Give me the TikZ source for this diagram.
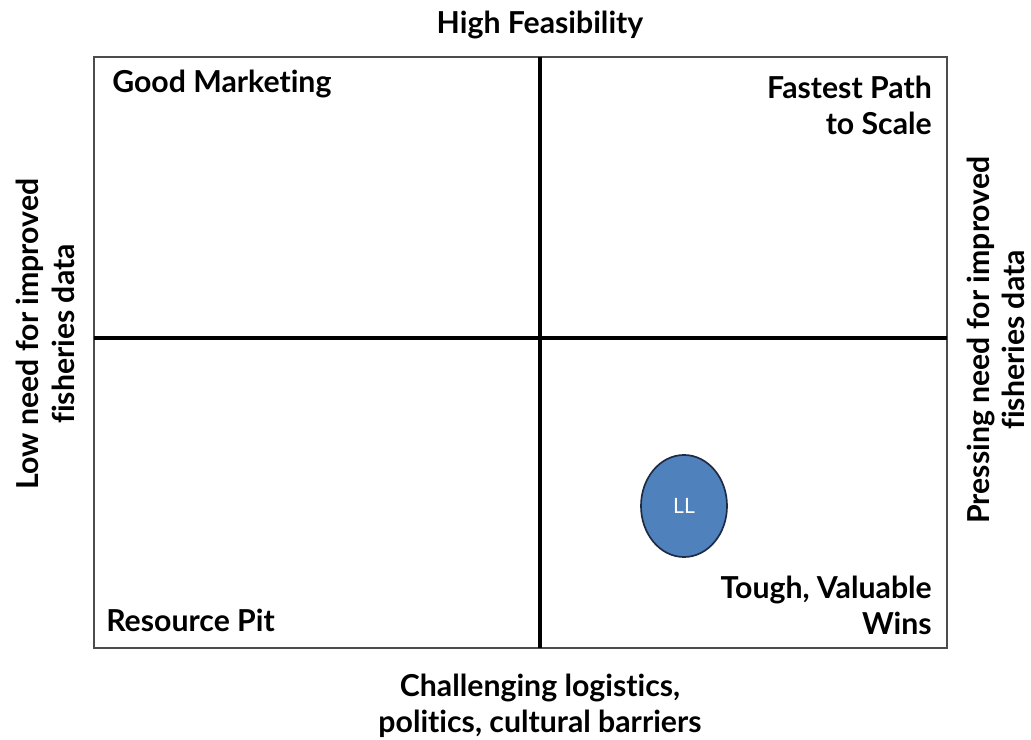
\documentclass[tikz,border=0pt]{standalone}
\usepackage{fontspec}
\setmainfont{Lato}[Ligatures=NoCommon]
\usepackage{tikz}
\usetikzlibrary{shapes.geometric}

\definecolor{llblue}{HTML}{4F81BD}
\definecolor{llnavy}{HTML}{1F2A44}

\begin{document}
\begin{tikzpicture}[x=0.025cm,y=-0.025cm,
		lbl/.style={font=\fontsize{21.5}{25.5}\selectfont\bfseries,inner sep=0pt}]
			\useasboundingbox (0,0) rectangle (1031,740);
			% quadrant frame and the two dividing lines
			\draw[line width=1.3pt,black!70] (94,57) rectangle (947,648);
			\draw[line width=2.2pt] (540,57) -- (540,648);
			\draw[line width=2.2pt] (94,338) -- (947,338);
			% axis labels
			\node [lbl] (top) at (540,25) {High Feasibility};
			\node [lbl,align=center] (bottom) at (540,706) {Challenging logistics,\\politics, cultural barriers};
			\node [lbl,align=center,rotate=90] (left) at (45,334) {Low need for improved\\fisheries data};
			\node [lbl,align=center,rotate=90,font=\fontsize{21.5}{24.5}\selectfont\bfseries] (right) at (996,340) {Pressing need for improved\\fisheries data};
			% quadrant names
			\node [lbl,anchor=west] (gm) at (112,84) {Good Marketing};
			\node [lbl,anchor=east,align=right] (fp) at (932,105) {Fastest Path\\to Scale};
			\node [lbl,anchor=west] (rp) at (106,620) {Resource Pit};
			\node [lbl,anchor=east,align=right] (tw) at (932,605) {Tough, Valuable\\Wins};
			\node [ellipse,draw=llnavy,line width=1.2pt,fill=llblue,inner sep=0pt,minimum width=2.15cm,minimum height=2.55cm,text=white,font=\fontsize{15}{17}\selectfont] (ll) at (684,506) {LL};
		\end{tikzpicture}
\end{document}
